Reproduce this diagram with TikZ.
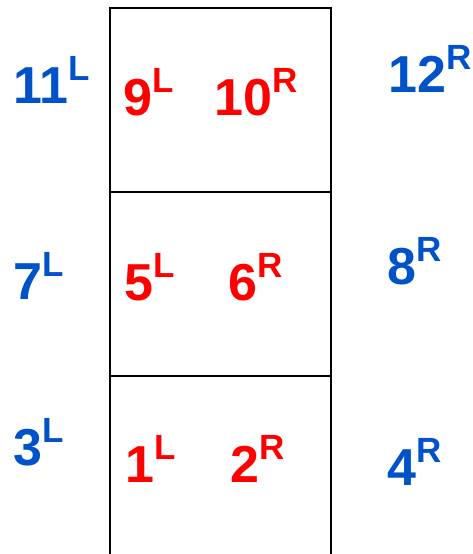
\documentclass[tikz,border=0pt]{standalone}
\usepackage{fontspec}
\setmainfont{Liberation Sans}
\usepackage{tikz}
\definecolor{cellred}{HTML}{FF0000}
\definecolor{sideblue}{HTML}{0052C8}
\newcommand{\seat}[2]{{\fontsize{52}{52}\selectfont #1}\kern0.5pt\raisebox{23pt}{\fontsize{35}{35}\selectfont #2}}

\begin{document}
\begin{tikzpicture}[x=1pt,y=-1pt, every node/.style={font=\bfseries,inner sep=0pt,anchor=base west}]
    \tikzstyle{cell}=[draw=black,line width=1.8pt,minimum width=221pt,minimum height=184pt,anchor=north west]
    \tikzstyle{inner}=[text=cellred]
    \tikzstyle{outer}=[text=sideblue]
    \useasboundingbox (0,0) rectangle (472,554);
    % column of cells
    \node[cell] (top) at (109,7) {};
    \node[cell] (mid) at (109,191) {};
    \node[cell] (bot) at (109,375) {};
    % labels inside
    \node[inner] (n9) at (123,115) {\seat{9}{L}};
    \node[inner] (n10) at (214,115) {\seat{10}{R}};
    \node[inner] (n5) at (124,300) {\seat{5}{L}};
    \node[inner] (n6) at (228,300) {\seat{6}{R}};
    \node[inner] (n1) at (125,482) {\seat{1}{L}};
    \node[inner] (n2) at (230,482) {\seat{2}{R}};
    % labels outside
    \node[outer] (n11) at (13,103) {\seat{11}{L}};
    \node[outer] (n12) at (388,92) {\seat{12}{R}};
    \node[outer] (n7) at (13,299) {\seat{7}{L}};
    \node[outer] (n8) at (387,284) {\seat{8}{R}};
    \node[outer] (n3) at (13,465) {\seat{3}{L}};
    \node[outer] (n4) at (387,485) {\seat{4}{R}};
\end{tikzpicture}
\end{document}
